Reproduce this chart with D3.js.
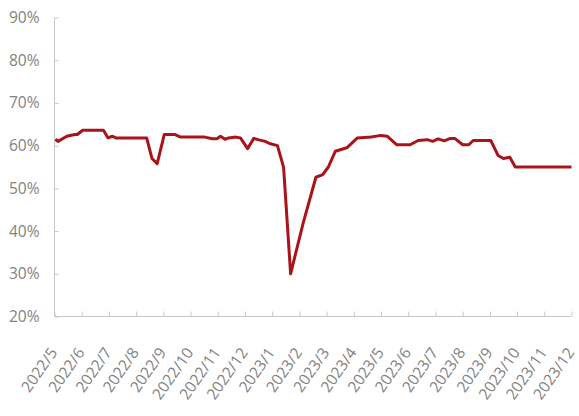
<!DOCTYPE html>
<html>
<head>
<meta charset="utf-8">
<script src="https://cdn.jsdelivr.net/npm/d3@7"></script>
<style>
  html, body { margin: 0; padding: 0; background: #fff; }
  svg { display: block; }
  text { font-family: "Open Sans", "Noto Sans", sans-serif; }
</style>
</head>
<body>
<svg id="chart" width="579" height="416"></svg>
<script>
// ---- data ----
const tickLabels = ["2022/5","2022/6","2022/7","2022/8","2022/9","2022/10","2022/11","2022/12",
  "2023/1","2023/2","2023/3","2023/4","2023/5","2023/6","2023/7","2023/8","2023/9","2023/10","2023/11","2023/12"];
const yTicks = [20, 30, 40, 50, 60, 70, 80, 90];
const dates = ["2022-05-02","2022-05-05","2022-05-15","2022-05-24","2022-05-27","2022-06-02","2022-06-25","2022-06-30",
  "2022-07-05","2022-07-09","2022-08-13","2022-08-19","2022-08-25","2022-09-02","2022-09-14","2022-09-20",
  "2022-10-17","2022-10-26","2022-10-31","2022-11-04","2022-11-09","2022-11-13","2022-11-21","2022-11-26",
  "2022-12-04","2022-12-11","2022-12-18","2022-12-24","2022-12-29","2023-01-07","2023-01-14","2023-01-22",
  "2023-02-05","2023-02-18","2023-02-25","2023-03-03","2023-03-11","2023-03-24","2023-04-05","2023-04-20",
  "2023-05-01","2023-05-08","2023-05-19","2023-06-03","2023-06-12","2023-06-22","2023-06-28","2023-07-04",
  "2023-07-11","2023-07-18","2023-07-23","2023-08-01","2023-08-08","2023-08-13","2023-09-02","2023-09-10",
  "2023-09-16","2023-09-23","2023-09-29","2023-12-01"];
const values = [61.5,61.0,62.2,62.6,62.6,63.6,63.6,61.8,
  62.2,61.8,61.8,57.0,55.8,62.6,62.6,62.0,
  62.0,61.6,61.6,62.2,61.5,61.8,62.0,61.8,
  59.3,61.7,61.3,61.0,60.5,60.0,54.9,30.0,
  42.0,52.6,53.2,55.0,58.7,59.5,61.8,62.0,
  62.4,62.2,60.2,60.2,61.2,61.4,61.0,61.6,
  61.1,61.7,61.7,60.2,60.2,61.2,61.2,57.7,
  57.0,57.3,55.0,55.0];

// ---- helpers ----
function monthPos(s) {
  const [y, m, d] = s.split("-").map(Number);
  const dim = new Date(y, m, 0).getDate();
  return (y - 2022) * 12 + (m - 5) + (d - 1) / dim;
}
const data = dates.map((d, i) => ({ t: monthPos(d), v: values[i] }));

const svg = d3.select("#chart");
const x = d3.scaleLinear().domain([0, tickLabels.length - 1]).range([54.5, 571.5]);
const y = d3.scaleLinear().domain([20, 90]).range([316.5, 17.5]);
const axisColor = "#c8c8c8";
const textColor = "#828282";

// y axis
const yAxis = svg.append("g")
  .attr("transform", `translate(${x.range()[0]},0)`)
  .call(d3.axisLeft(y).tickValues(yTicks).tickSize(-4).tickPadding(18).tickFormat(d => d + "%"));
yAxis.select(".domain").attr("stroke", axisColor).attr("d", `M0,${y(20)}V${y(90)}`);
yAxis.selectAll(".tick line").attr("stroke", axisColor);
yAxis.selectAll(".tick text").attr("fill", textColor).style("font-size", "15.5px")
  .attr("x", -15).attr("text-anchor", "end");

// x axis
const xAxis = svg.append("g")
  .attr("transform", `translate(0,${y(20)})`)
  .call(d3.axisBottom(x).tickValues(d3.range(tickLabels.length)).tickSize(-5).tickFormat(i => tickLabels[i]));
xAxis.select(".domain").attr("stroke", axisColor).attr("d", `M${x.range()[0]},0H${x.range()[1]}`);
xAxis.selectAll(".tick line").attr("stroke", axisColor);
xAxis.selectAll(".tick text")
  .attr("fill", textColor).style("font-size", "15.5px")
  .attr("text-anchor", "end")
  .attr("x", null).attr("y", null).attr("dy", null)
  .attr("transform", "translate(3,36) rotate(-55)");

// line
const line = d3.line().x(d => x(d.t)).y(d => y(d.v));
svg.append("path")
  .datum(data)
  .attr("fill", "none")
  .attr("stroke", "#a81419")
  .attr("stroke-width", 3)
  .attr("stroke-linejoin", "round")
  .attr("d", line);
</script>
</body>
</html>
